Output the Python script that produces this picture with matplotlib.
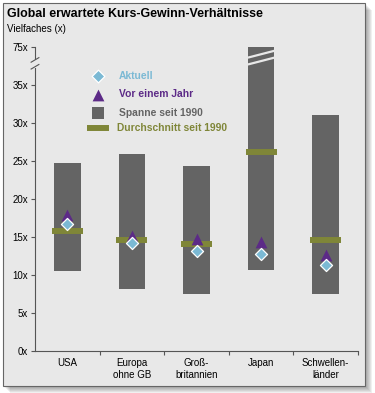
import matplotlib.pyplot as plt
from matplotlib.patches import Rectangle

# data (Japan's range top is 75x, drawn on a broken axis)
categories = ["USA", "Europa\nohne GB", "Groß-\nbritannien", "Japan", "Schwellen-\nländer"]
range_low = [10.5, 8.1, 7.5, 10.7, 7.5]
range_high = [24.8, 25.9, 24.4, 75.0, 31.0]
average = [15.8, 14.6, 14.1, 26.2, 14.6]
year_ago = [17.9, 15.1, 14.7, 14.3, 12.6]
current = [16.7, 14.2, 13.2, 12.8, 11.3]
tick_values = [0, 5, 10, 15, 20, 25, 30, 35, 75]


def to_axis(v):
    # values above the break (75x) are squeezed to sit at 40 on the drawing scale
    return v if v <= 35 else 40.0


plt.rcParams["font.family"] = ["Liberation Sans", "DejaVu Sans"]

fig = plt.figure(figsize=(3.75, 3.93), dpi=100)
fig.patch.set_facecolor("white")

# panel with soft drop shadow
W, H = 375, 393
for i in range(7):
    off = 7 - i
    fig.patches.append(Rectangle(((3 + off) / W, 1 - (386 + off) / H), 362 / W, 383 / H,
                                 transform=fig.transFigure, facecolor="black", alpha=0.06,
                                 edgecolor="none", zorder=0))
fig.patches.append(Rectangle((3 / W, 1 - 386 / H), 362 / W, 383 / H, transform=fig.transFigure,
                             facecolor="#e8e8e8", edgecolor="#666666", linewidth=0.8, zorder=1))

ax = fig.add_axes([35 / W, 1 - 351 / H, 323 / W, 304 / H])
ax.set_facecolor("none")
ax.set_zorder(2)

x = list(range(len(categories)))
lows = range_low
highs = [to_axis(v) for v in range_high]
ax.bar(x, [h - l for h, l in zip(highs, lows)], bottom=lows, width=0.41,
       color="#646464", zorder=2)
ax.hlines([to_axis(v) for v in average], [i - 0.24 for i in x], [i + 0.24 for i in x],
          color="#7f8638", linewidth=4.3, zorder=3)
ax.scatter(x, year_ago, marker="^", s=72, color="#5c2a87", zorder=4, linewidths=0)
ax.scatter(x, current, marker="D", s=38, color="#7bb9d4", edgecolors="white",
           linewidths=0.9, zorder=5)

# break stripes on the Japan bar
for y0 in (37.7, 38.6):
    ax.plot([3 - 0.205, 3 + 0.205], [y0, y0 + 0.9], color="#e8e8e8", linewidth=1.6,
            zorder=3, solid_capstyle="butt")

ax.set_xlim(-0.5, 4.5)
ax.set_ylim(0, 40)
ax.set_yticks([to_axis(v) for v in tick_values])
ax.set_yticklabels([f"{v}x" for v in tick_values], fontsize=7)
ax.set_xticks([i + 0.5 for i in x])
ax.set_xticklabels([])
ax.set_xticks(x, minor=True)
ax.set_xticklabels(categories, minor=True, fontsize=7)
ax.tick_params(axis="x", which="minor", length=0, pad=5)
ax.tick_params(axis="x", which="major", length=3, direction="out", color="#555555")
ax.tick_params(axis="y", length=3, direction="out", color="#555555", pad=2)
for s in ("top", "right"):
    ax.spines[s].set_visible(False)
ax.spines["bottom"].set_color("#555555")
ax.spines["left"].set_color("#555555")
ax.spines["left"].set_bounds(0, 40)

# axis break on the y axis
ax.add_patch(Rectangle((-0.53, 37.3), 0.06, 1.0, transform=ax.transData, facecolor="#e8e8e8",
                       edgecolor="none", zorder=6, clip_on=False))
for y0 in (37.1, 38.0):
    ax.plot([-0.56, -0.44], [y0, y0 + 0.6], color="#555555", linewidth=0.8, zorder=7,
            clip_on=False)

# legend drawn by hand
lx, tx = 0.47, 0.8
ax.scatter([lx], [36.2], marker="D", s=42, color="#7bb9d4", edgecolors="white", linewidths=0.9,
           zorder=5)
ax.scatter([lx], [33.7], marker="^", s=72, color="#5c2a87", linewidths=0, zorder=5)
ax.scatter([lx], [31.3], marker="s", s=75, color="#646464", linewidths=0, zorder=5)
ax.hlines([29.4], lx - 0.17, lx + 0.17, color="#7f8638", linewidth=4.3, zorder=5)
ax.text(tx, 36.2, "Aktuell", color="#7bb9d4", fontsize=7.4, fontweight="bold", va="center")
ax.text(tx, 33.8, "Vor einem Jahr", color="#5c2a87", fontsize=7.4, fontweight="bold",
        va="center")
ax.text(tx, 31.3, "Spanne seit 1990", color="#646464", fontsize=7.4, fontweight="bold",
        va="center")
ax.text(tx - 0.03, 29.4, "Durchschnitt seit 1990", color="#7f8638", fontsize=7.4,
        fontweight="bold", va="center")

fig.text(7 / W, 1 - 14 / H, "Global erwartete Kurs-Gewinn-Verhältnisse", fontsize=8.9,
         fontweight="bold", va="center", zorder=3)
fig.text(7 / W, 1 - 29 / H, "Vielfaches (x)", fontsize=7, va="center", zorder=3)

fig.savefig("out.png", dpi=100)
